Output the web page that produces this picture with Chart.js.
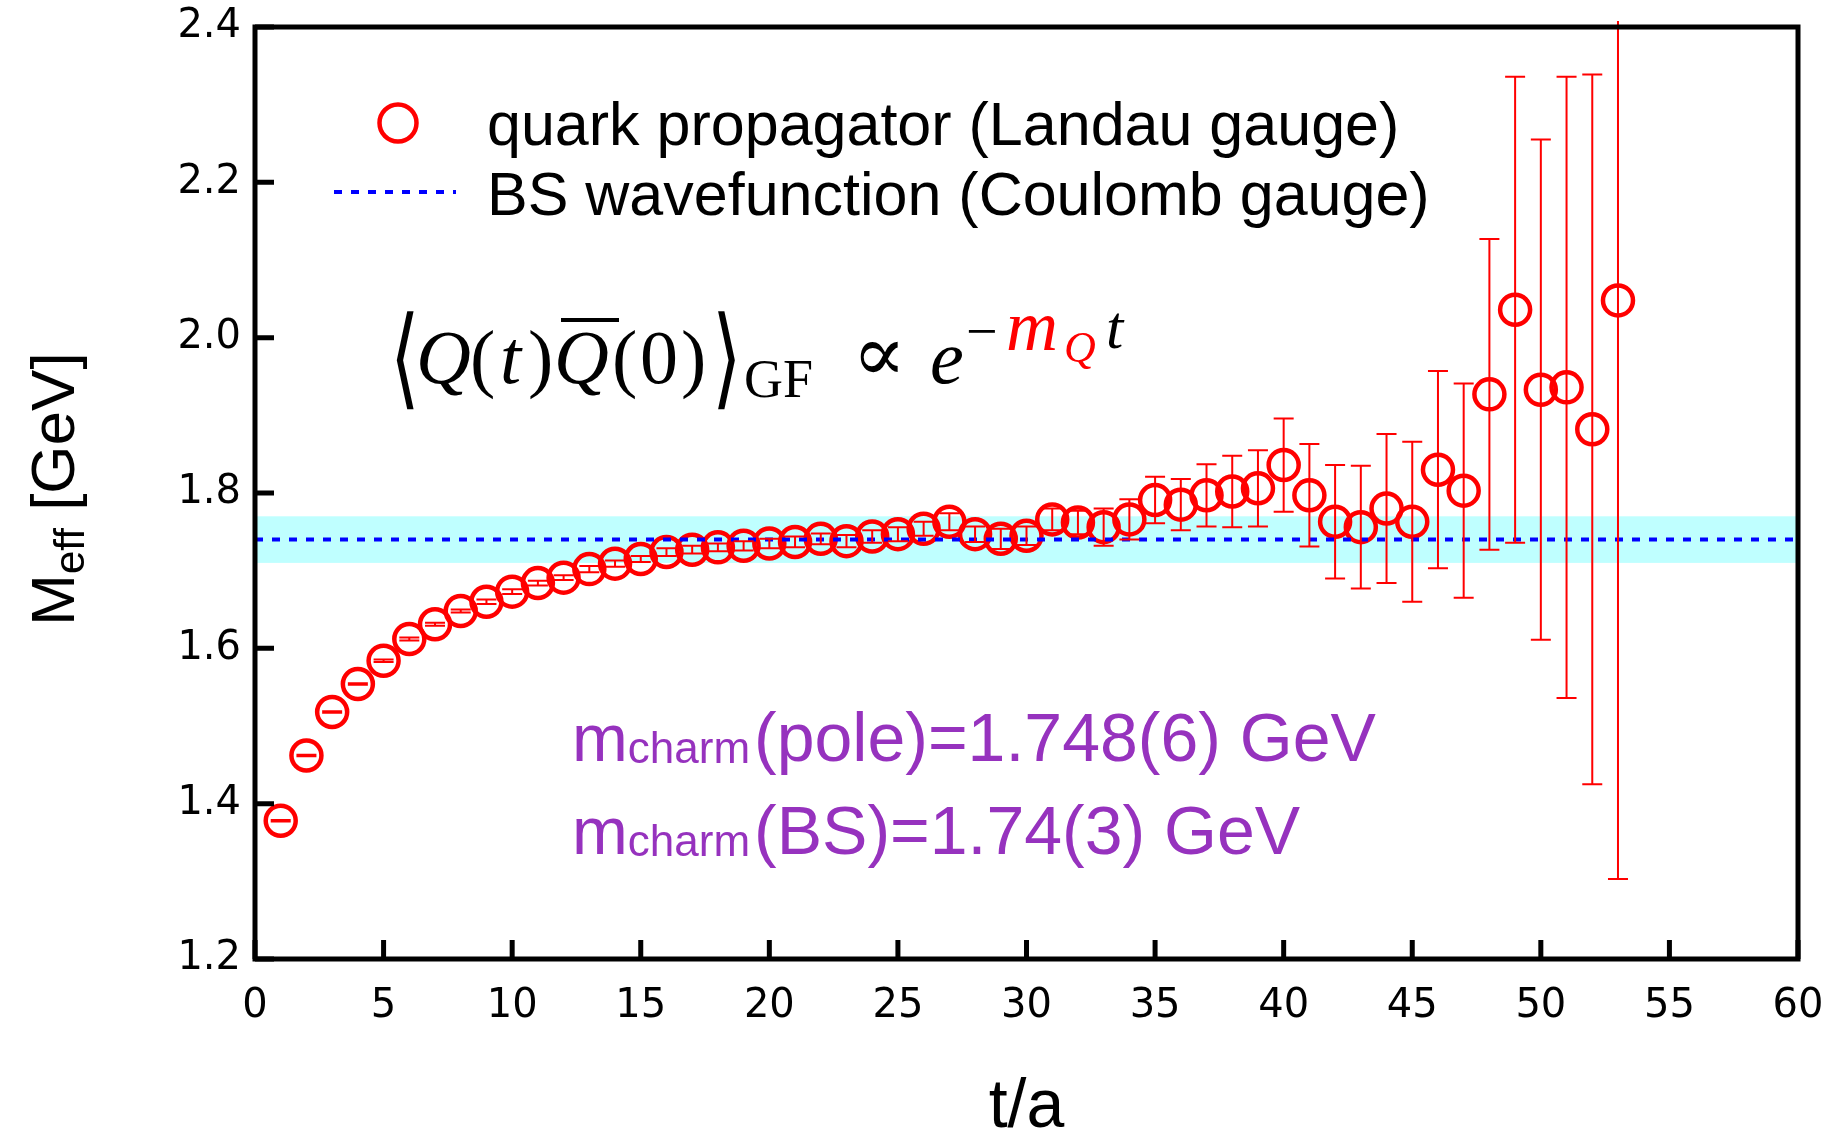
<!DOCTYPE html>
<html>
<head>
<meta charset="utf-8">
<title>M_eff vs t/a</title>
<script src="https://cdn.jsdelivr.net/npm/chart.js@4.4.0/dist/chart.umd.min.js"></script>
<style>
  html, body { margin: 0; padding: 0; background: #fff; }
  #wrap { width: 1839px; height: 1134px; }
</style>
</head>
<body>
<div id="wrap"><canvas id="chartMeff" width="1839" height="1134"></canvas></div>
<script>
/* ================= DATA ================= */
const tSlices = [
  1, 2, 3, 4, 5, 6, 7, 8, 9, 10,
  11, 12, 13, 14, 15, 16, 17, 18, 19, 20,
  21, 22, 23, 24, 25, 26, 27, 28, 29, 30,
  31, 32, 33, 34, 35, 36, 37, 38, 39, 40,
  41, 42, 43, 44, 45, 46, 47, 48, 49, 50,
  51, 52, 53
];

const mEff = [
  1.378, 1.462, 1.518, 1.554, 1.584, 1.612, 1.631, 1.648, 1.660, 1.673,
  1.684, 1.691, 1.702, 1.709, 1.715, 1.724, 1.727, 1.730, 1.732, 1.735,
  1.737, 1.741, 1.738, 1.744, 1.747, 1.754, 1.763, 1.747, 1.741, 1.745,
  1.766, 1.762, 1.756, 1.766, 1.791, 1.785, 1.797, 1.802, 1.806, 1.836,
  1.797, 1.763, 1.756, 1.780, 1.763, 1.830, 1.803, 1.927, 2.036, 1.933,
  1.936, 1.882, 2.048
];

const mErr = [
  0.001, 0.001, 0.001, 0.001, 0.0015, 0.002, 0.002, 0.002, 0.003, 0.003,
  0.003, 0.003, 0.004, 0.004, 0.004, 0.005, 0.005, 0.005, 0.006, 0.006,
  0.007, 0.007, 0.008, 0.008, 0.009, 0.009, 0.011, 0.010, 0.013, 0.012,
  0.014, 0.015, 0.024, 0.026, 0.030, 0.033, 0.040, 0.046, 0.049, 0.060,
  0.066, 0.073, 0.079, 0.096, 0.103, 0.127, 0.138, 0.200, 0.300, 0.322,
  0.400, 0.457, 0.745
];

// BS wavefunction fit: 1.74(3) GeV
const bsMass = 1.74;
const bsErr = 0.03;

const xTicks = [0, 5, 10, 15, 20, 25, 30, 35, 40, 45, 50, 55, 60];
const yTicks = [1.2, 1.4, 1.6, 1.8, 2.0, 2.2, 2.4];

/* ================= HELPERS ================= */
const RED = "#ff0000";
const BLUE = "#0000ff";
const PURPLE = "#9632be";
const SANS = "'Liberation Sans', Arial, Helvetica, sans-serif";
const SERIF = "'Liberation Serif', 'DejaVu Serif', 'DejaVu Sans', serif";

const points = tSlices.map((t, i) => ({ x: t, y: mEff[i] }));

/* ================= PLUGINS ================= */
// cyan band for the BS result, drawn under everything
const bandPlugin = {
  id: "bsBand",
  beforeDatasetsDraw(chart) {
    const { ctx, chartArea } = chart;
    const y = chart.scales.y;
    const y1 = y.getPixelForValue(bsMass + bsErr);
    const y2 = y.getPixelForValue(bsMass - bsErr);
    ctx.save();
    ctx.fillStyle = "#bfffff";
    ctx.fillRect(chartArea.left, y1, chartArea.right - chartArea.left, y2 - y1);
    ctx.restore();
  }
};

// vertical error bars with caps
const errorBarPlugin = {
  id: "errorBars",
  afterDatasetsDraw(chart) {
    const { ctx, chartArea } = chart;
    const xs = chart.scales.x, ys = chart.scales.y;
    ctx.save();
    ctx.beginPath();
    ctx.rect(chartArea.left, chartArea.top - 6, chartArea.right - chartArea.left, chartArea.bottom - chartArea.top + 6);
    ctx.clip();
    ctx.strokeStyle = RED;
    ctx.lineWidth = 2;
    const cap = 10;
    tSlices.forEach((t, i) => {
      const px = xs.getPixelForValue(t);
      const hi = ys.getPixelForValue(mEff[i] + mErr[i]);
      const lo = ys.getPixelForValue(mEff[i] - mErr[i]);
      ctx.beginPath();
      ctx.moveTo(px, hi); ctx.lineTo(px, lo);
      ctx.moveTo(px - cap, hi); ctx.lineTo(px + cap, hi);
      ctx.moveTo(px - cap, lo); ctx.lineTo(px + cap, lo);
      ctx.stroke();
    });
    ctx.restore();
  }
};

// box frame and inward ticks
const framePlugin = {
  id: "frame",
  afterDatasetsDraw(chart) {
    const { ctx, chartArea } = chart;
    const { left, right, top, bottom } = chartArea;
    const xs = chart.scales.x, ys = chart.scales.y;
    ctx.save();
    ctx.strokeStyle = "#000";
    ctx.lineWidth = 5;
    ctx.strokeRect(left, top, right - left, bottom - top);
    ctx.beginPath();
    xs.ticks.forEach(t => {
      const px = xs.getPixelForValue(t.value);
      ctx.moveTo(px, bottom);
      ctx.lineTo(px, bottom - 19);
    });
    ys.ticks.forEach(t => {
      const py = ys.getPixelForValue(t.value);
      ctx.moveTo(left, py);
      ctx.lineTo(left + 19, py);
    });
    ctx.stroke();
    ctx.restore();
  }
};

// legend, formula, mass labels and axis titles
const textPlugin = {
  id: "texts",
  afterDraw(chart) {
    const { ctx, chartArea } = chart;
    ctx.save();
    ctx.textBaseline = "alphabetic";
    ctx.textAlign = "left";

    /* legend */
    ctx.strokeStyle = RED;
    ctx.lineWidth = 4.5;
    ctx.beginPath();
    ctx.arc(398, 123, 18.5, 0, Math.PI * 2);
    ctx.stroke();

    ctx.strokeStyle = BLUE;
    ctx.lineWidth = 4;
    ctx.setLineDash([8, 9]);
    ctx.beginPath();
    ctx.moveTo(334, 192);
    ctx.lineTo(456, 192);
    ctx.stroke();
    ctx.setLineDash([]);

    ctx.fillStyle = "#000";
    ctx.font = "61px " + SANS;
    ctx.fillText("quark propagator (Landau gauge)", 487, 145);
    ctx.fillText("BS wavefunction (Coulomb gauge)", 487, 215);

    /* formula <Q(t) Qbar(0)>_GF ∝ e^{-m_Q t} */
    const base = 383;
    const big = "76px " + SERIF;
    const bigIt = "italic 76px " + SERIF;
    const put = (txt, x, y, font, color) => {
      ctx.font = font;
      ctx.fillStyle = color || "#000";
      ctx.fillText(txt, x, y);
    };
    // tall angle brackets
    const bracket = (txt, x) => {
      ctx.save();
      ctx.translate(x, base + 12);
      ctx.scale(1, 1.45);
      put(txt, 0, 0, "76px " + SERIF);
      ctx.restore();
    };
    bracket("\u27E8", 390);
    put("Q", 416, base, bigIt);
    put("(", 470, base, big);
    put("t", 500, base, bigIt);
    put(")", 528, base, big);
    put("Q", 554, base, bigIt);
    ctx.fillStyle = "#000";
    ctx.fillRect(561, 318, 58, 4);
    put("(", 612, base, big);
    put("0", 640, base, big);
    put(")", 681, base, big);
    bracket("\u27E9", 712);
    put("GF", 744, base + 14, "54px " + SERIF);
    put("\u221D", 852, base - 2, "80px " + SERIF);
    put("e", 930, base, bigIt);
    put("\u2212", 966, 350, "56px " + SERIF);
    put("m", 1006, 350, "italic 72px " + SERIF, RED);
    put("Q", 1064, 362, "italic 44px " + SERIF, RED);
    put("t", 1106, 348, "italic 62px " + SERIF);

    /* mass results */
    const massLine = (rest, x, y) => {
      ctx.fillStyle = PURPLE;
      ctx.font = "67px " + SANS;
      ctx.fillText("m", x, y);
      x += ctx.measureText("m").width;
      ctx.font = "44px " + SANS;
      ctx.fillText("charm", x, y + 2);
      x += ctx.measureText("charm").width + 4;
      ctx.font = "68px " + SANS;
      ctx.fillText(rest, x, y);
    };
    massLine("(pole)=1.748(6) GeV", 572, 761);
    massLine("(BS)=1.74(3) GeV", 572, 854);

    /* axis titles */
    ctx.fillStyle = "#000";
    ctx.font = "68px " + SANS;
    ctx.textAlign = "center";
    ctx.fillText("t/a", (chartArea.left + chartArea.right) / 2, 1127);

    ctx.textAlign = "left";
    const cy = (chartArea.top + chartArea.bottom) / 2 - 4;
    ctx.translate(74, cy);
    ctx.rotate(-Math.PI / 2);
    ctx.font = "62px " + SANS;
    const wM = ctx.measureText("M").width;
    const wG = ctx.measureText(" [GeV]").width;
    ctx.font = "42px " + SANS;
    const wE = ctx.measureText("eff").width;
    let x0 = -(wM + wE + wG) / 2;
    ctx.font = "62px " + SANS;
    ctx.fillText("M", x0, 0);
    ctx.font = "42px " + SANS;
    ctx.fillText("eff", x0 + wM, 10);
    ctx.font = "62px " + SANS;
    ctx.fillText(" [GeV]", x0 + wM + wE, 0);
    ctx.restore();
  }
};

/* ================= CHART ================= */
new Chart(document.getElementById("chartMeff"), {
  data: {
    datasets: [
      {
        type: "line",
        label: "BS wavefunction (Coulomb gauge)",
        data: [{ x: xTicks[0], y: bsMass }, { x: xTicks[xTicks.length - 1], y: bsMass }],
        borderColor: BLUE,
        borderWidth: 4,
        borderDash: [8, 9],
        pointRadius: 0,
        fill: false
      },
      {
        type: "scatter",
        label: "quark propagator (Landau gauge)",
        data: points,
        pointStyle: "circle",
        pointRadius: 15,
        borderWidth: 4.5,
        borderColor: RED,
        backgroundColor: "rgba(0,0,0,0)"
      }
    ]
  },
  options: {
    responsive: false,
    animation: false,
    layout: { autoPadding: false, padding: { top: 27, right: 41, left: 0, bottom: 0 } },
    plugins: {
      legend: { display: false },
      tooltip: { enabled: false }
    },
    scales: {
      x: {
        type: "linear",
        min: 0,
        max: 60,
        afterBuildTicks: s => { s.ticks = xTicks.map(v => ({ value: v })); },
        afterFit: s => { s.height = 175; s.paddingLeft = 0; s.paddingRight = 0; },
        grid: { display: false, drawTicks: false },
        border: { display: false },
        ticks: {
          color: "#000",
          padding: 24,
          font: { family: "DejaVu Sans", size: 40 },
          callback: v => String(v)
        }
      },
      y: {
        type: "linear",
        min: 1.2,
        max: 2.4,
        afterBuildTicks: s => { s.ticks = yTicks.map(v => ({ value: v })); },
        afterFit: s => { s.width = 255; s.paddingTop = 0; s.paddingBottom = 0; },
        grid: { display: false, drawTicks: false },
        border: { display: false },
        ticks: {
          color: "#000",
          padding: 14,
          font: { family: "DejaVu Sans", size: 40 },
          callback: v => v.toFixed(1)
        }
      }
    }
  },
  plugins: [bandPlugin, errorBarPlugin, framePlugin, textPlugin]
});
</script>
</body>
</html>
